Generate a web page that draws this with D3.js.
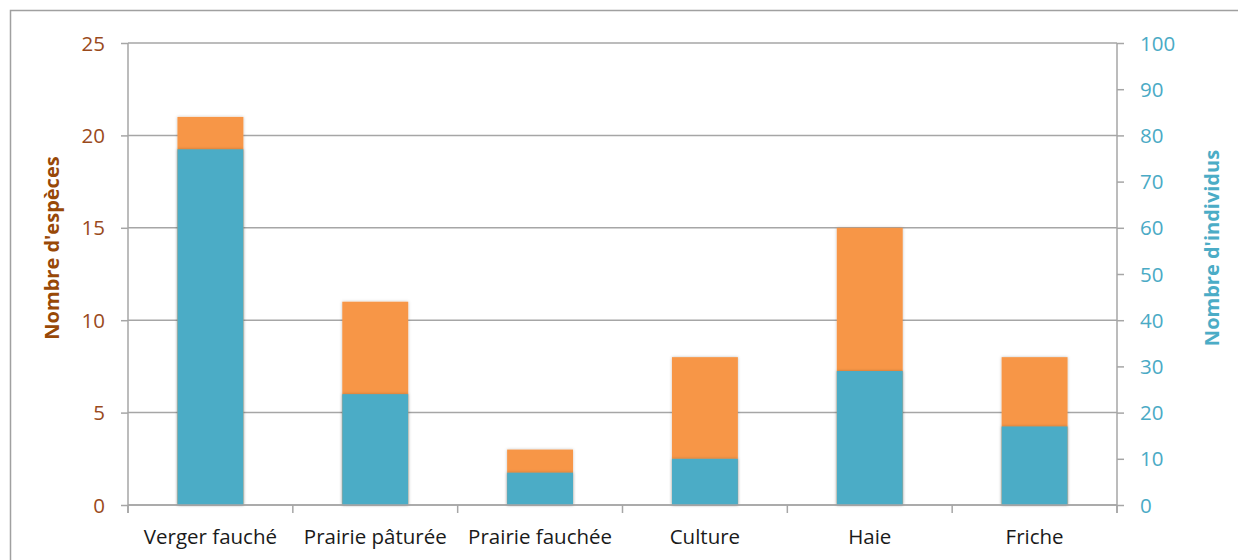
<!DOCTYPE html>
<html>
<head>
<meta charset="utf-8">
<script src="https://cdn.jsdelivr.net/npm/d3@7"></script>
<style>
  html, body { margin: 0; padding: 0; background: #fff; }
  svg { display: block; }
  text { font-family: "Open Sans", Lato, sans-serif; }
</style>
</head>
<body>
<svg id="chart" width="1238" height="560"></svg>
<script>
// Habitats sampled
const categories = ["Verger fauché", "Prairie pâturée", "Prairie fauchée", "Culture", "Haie", "Friche"];
// Number of species per habitat (left axis)
const especes = [21, 11, 3, 8, 15, 8];
// Number of individuals per habitat (right axis)
const individus = [77, 24, 7, 10, 29, 17];
// Axis tick values
const leftTicks = [0, 5, 10, 15, 20, 25];
const rightTicks = [0, 10, 20, 30, 40, 50, 60, 70, 80, 90, 100];

const svg = d3.select("#chart");
const plot = { left: 128, right: 1117, top: 43, bottom: 505 };

const orange = "#F79646";
const blue = "#4BACC6";
const brown = "#9A4A1C";
const gridColor = "#A6A6A6";
const font = "'Open Sans', Lato, sans-serif";
const fontSize = 20.5;

// Outer chart frame
svg.append("rect")
  .attr("x", 10.5).attr("y", 10.5)
  .attr("width", 1300).attr("height", 700)
  .attr("fill", "none").attr("stroke", "#A0A0A0").attr("stroke-width", 1.5);

const x = d3.scaleBand().domain(categories).range([plot.left, plot.right]).paddingInner(0.6).paddingOuter(0.3);
const yL = d3.scaleLinear().domain([0, 25]).range([plot.bottom, plot.top]);
const yR = d3.scaleLinear().domain([0, 100]).range([plot.bottom, plot.top]);

// Horizontal gridlines on the left-axis ticks
svg.append("g").selectAll("line").data(leftTicks).join("line")
  .attr("x1", plot.left).attr("x2", plot.right)
  .attr("y1", d => yL(d)).attr("y2", d => yL(d))
  .attr("stroke", gridColor).attr("stroke-width", 1.5);

// Soft shadow for bars
const defs = svg.append("defs");
const f = defs.append("filter").attr("id", "shadow").attr("x", "-10%").attr("y", "-10%").attr("width", "120%").attr("height", "120%");
f.append("feDropShadow").attr("dx", 0).attr("dy", 0).attr("stdDeviation", 1.5).attr("flood-color", "#000").attr("flood-opacity", 0.25);

// Species bars (behind)
svg.append("g").selectAll("rect").data(categories).join("rect")
  .attr("x", d => x(d)).attr("width", x.bandwidth())
  .attr("y", (d, i) => yL(especes[i]))
  .attr("height", (d, i) => yL(0) - yL(especes[i]))
  .attr("fill", orange).attr("filter", "url(#shadow)");

// Individuals bars (front)
svg.append("g").selectAll("rect").data(categories).join("rect")
  .attr("x", d => x(d)).attr("width", x.bandwidth())
  .attr("y", (d, i) => yR(individus[i]))
  .attr("height", (d, i) => yR(0) - yR(individus[i]))
  .attr("fill", blue).attr("filter", "url(#shadow)");

// Left axis
const gL = svg.append("g").attr("transform", `translate(${plot.left},0)`)
  .call(d3.axisLeft(yL).tickValues(leftTicks).tickSize(7).tickPadding(16));
gL.select(".domain").attr("d", `M-0,${plot.top}V${plot.bottom + 8}`);

// Right axis
const gR = svg.append("g").attr("transform", `translate(${plot.right},0)`)
  .call(d3.axisRight(yR).tickValues(rightTicks).tickSize(7).tickPadding(16));
gR.select(".domain").attr("d", `M0,${plot.top}V${plot.bottom + 8}`);

// Bottom axis with ticks at category boundaries
const boundaries = d3.range(categories.length + 1).map(i => plot.left + i * (plot.right - plot.left) / categories.length);
const gB = svg.append("g").attr("transform", `translate(0,${plot.bottom})`)
  .call(d3.axisBottom(x).tickSize(0).tickPadding(24));
gB.select(".domain").remove();
gB.selectAll(".boundary").data(boundaries).join("line")
  .attr("class", "boundary")
  .attr("x1", d => d).attr("x2", d => d).attr("y1", 0).attr("y2", 8)
  .attr("stroke", gridColor).attr("stroke-width", 1.5);
svg.append("line")
  .attr("x1", plot.left).attr("x2", plot.right)
  .attr("y1", plot.bottom).attr("y2", plot.bottom)
  .attr("stroke", gridColor).attr("stroke-width", 1.5);

[gL, gR].forEach(g => {
  g.selectAll(".domain").attr("stroke", gridColor).attr("stroke-width", 1.5);
  g.selectAll(".tick line").attr("stroke", gridColor).attr("stroke-width", 1.5);
  g.selectAll(".tick text").attr("font-size", fontSize).attr("font-family", font);
});
gL.selectAll(".tick text").attr("fill", brown).attr("dy", "0.35em");
gR.selectAll(".tick text").attr("fill", "#4AAAC5").attr("dy", "0.35em");
gB.selectAll(".tick text").attr("fill", "#1a1a1a").attr("font-size", fontSize).attr("font-family", font);

// Axis titles
svg.append("text")
  .attr("transform", "translate(59,248) rotate(-90)")
  .attr("text-anchor", "middle")
  .attr("font-size", 20).attr("font-weight", "bold").attr("fill", "#984807")
  .text("Nombre d'espèces");
svg.append("text")
  .attr("transform", "translate(1219,248) rotate(-90)")
  .attr("text-anchor", "middle")
  .attr("font-size", 20).attr("font-weight", "bold").attr("fill", "#4BACC6")
  .text("Nombre d'individus");
</script>
</body>
</html>
